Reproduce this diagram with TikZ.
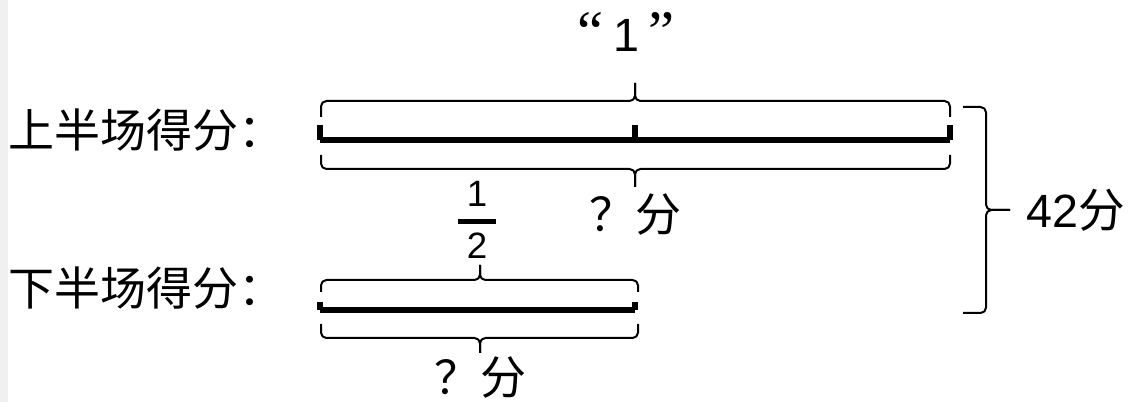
\documentclass[tikz,border=0pt]{standalone}
\usepackage{fontspec}
\setmainfont{Liberation Sans}
\newfontfamily\cjk{Noto Sans CJK SC}
\newfontfamily\qfont{Liberation Serif}
\usetikzlibrary{calc}
\tikzset{
  bar/.style={line width=4.5pt},
  brc/.style={line width=1.5pt, rounded corners=4pt, line join=round},
  lab/.style={inner sep=0pt, font=\cjk\fontsize{34.5}{40}\selectfont},
  qa/.style={inner sep=0pt, font=\cjk\fontsize{34.5}{40}\selectfont},
  num/.style={inner sep=0pt, font=\fontsize{35}{40}\selectfont},
  fr/.style={inner sep=0pt, font=\fontsize{27.5}{32}\selectfont},
}
\newcommand\hbr[6]{%
  \draw[brc] (#1,#4) -- (#1,#5) -- (#3,#5) -- (#3,#6);
  \draw[brc] (#2,#4) -- (#2,#5) -- (#3,#5) -- (#3,#6);}
\newcommand\tickmark[2]{\fill ($(#1)+(-3,-#2)$) rectangle ($(#1)+(3,0)$);}
\begin{document}
\begin{tikzpicture}[x=0.75pt,y=-0.75pt]
\useasboundingbox (0,0) rectangle (1129,402);
\fill[black!6] (0,0) rectangle (8,402);
% labels
\node[lab, anchor=west] (l1) at (8,130) {上半场得分：};
\node[lab, anchor=west] (l2) at (8,288) {下半场得分：};
% top bar
\coordinate (A) at (320,140);
\coordinate (M) at (635,140);
\coordinate (B) at (950,140);
\draw[bar] (A) -- (B);
\tickmark{A}{15}
\tickmark{M}{15}
\tickmark{B}{15}
% bottom bar
\coordinate (C) at (320,310);
\coordinate (D) at (635,310);
\draw[bar] (C) -- (D);
\tickmark{C}{8}
\tickmark{D}{8}
% braces
\hbr{321}{950}{635}{117}{101}{83}
\hbr{321}{950}{635}{155}{169}{187}
\hbr{321}{638}{480}{292}{280}{265}
\hbr{321}{638}{480}{324}{338}{353}
\draw[brc] (963,107) -- (986,107) -- (986,210) -- (1010,210);
\draw[brc] (963,313) -- (986,313) -- (986,210) -- (1010,210);
% texts
\node[num, anchor=base] (one) at (626,52) {{\qfont\fontsize{44}{44}\selectfont “}\hspace{7pt}1\hspace{7pt}{\qfont\fontsize{44}{44}\selectfont ”}};
\node[qa] (q1) at (635,215) {？分};
\node[qa] (q2) at (480,378) {？分};
\node[fr, anchor=base] (f1) at (477,207) {1};
\node[fr, anchor=base] (f2) at (477,259) {2};
\draw[line width=3.75pt] (458,221.5) -- (496,221.5);
\node[num, anchor=base west] (tot) at (1026,228) {42{\cjk 分}};
\end{tikzpicture}
\end{document}
